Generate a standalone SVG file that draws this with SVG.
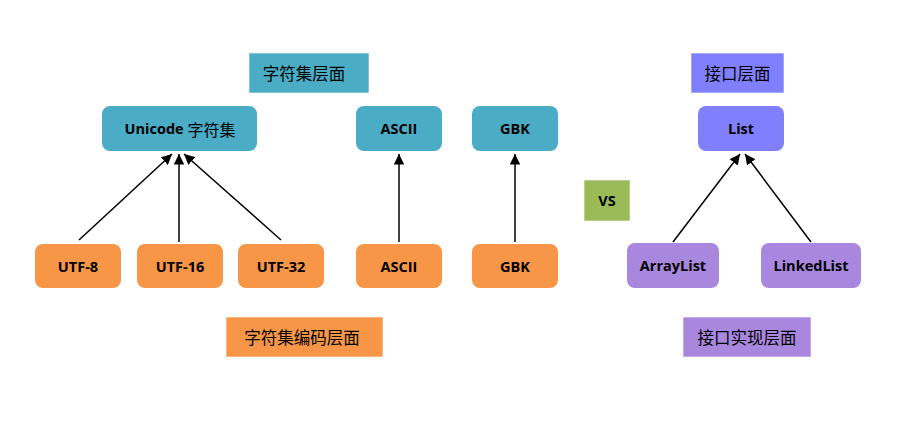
<svg xmlns="http://www.w3.org/2000/svg" width="920" height="423" viewBox="0 0 920 423">
<style>
.n{stroke:none}
.blue{fill:#4BACC6}
.orange{fill:#F79646}
.iface{fill:#8080FF}
.impl{fill:#A987DE}
.green{fill:#9BBB59}
.lbl{stroke:#ffffff;stroke-opacity:0.6;stroke-width:1}
.t{font-family:"Open Sans","Noto Sans CJK SC",sans-serif;font-weight:bold;font-size:14.5px;fill:#000;text-anchor:middle;dominant-baseline:central}
.cn{font-family:"Noto Sans CJK SC",sans-serif;font-weight:normal;font-size:16px}
.c{font-family:"Noto Sans CJK SC","Noto Sans",sans-serif;font-size:16.5px;fill:#000;text-anchor:middle;dominant-baseline:central}
.e{stroke:#000;stroke-width:1.5;fill:none;marker-end:url(#ah)}
</style>
<defs>
<marker id="ah" viewBox="0 0 10 10" refX="10" refY="5" markerWidth="7" markerHeight="7" orient="auto" markerUnits="strokeWidth">
<path d="M0,0 L10,5 L0,10 z" fill="#000"/>
</marker>
</defs>
<rect width="920" height="423" fill="#fff"/>
<g id="connectors">
<line class="e" x1="79" y1="240" x2="172" y2="154"/>
<line class="e" x1="179" y1="242" x2="179" y2="154"/>
<line class="e" x1="281" y1="240" x2="184" y2="154"/>
<line class="e" x1="399" y1="242" x2="399" y2="154"/>
<line class="e" x1="515" y1="242" x2="515" y2="154"/>
<line class="e" x1="673" y1="242" x2="740" y2="154"/>
<line class="e" x1="811" y1="242" x2="745" y2="154"/>
</g>
<g id="label-charset"><rect class="blue lbl" x="249" y="53" width="120" height="40"/><text class="c" x="304" y="73">字符集层面</text></g>
<g id="unicode"><rect class="blue" x="102" y="106" width="155" height="45" rx="8"/><text class="t" x="180" y="128.5">Unicode <tspan class="cn">字符集</tspan></text></g>
<g id="ascii-top"><rect class="blue" x="356" y="106" width="86" height="45" rx="8"/><text class="t" x="399" y="128.5">ASCII</text></g>
<g id="gbk-top"><rect class="blue" x="472" y="106" width="86" height="45" rx="8"/><text class="t" x="515" y="128.5">GBK</text></g>
<g id="utf8"><rect class="orange" x="35" y="244" width="86" height="44" rx="8"/><text class="t" x="78" y="266">UTF-8</text></g>
<g id="utf16"><rect class="orange" x="137" y="244" width="86" height="44" rx="8"/><text class="t" x="180" y="266">UTF-16</text></g>
<g id="utf32"><rect class="orange" x="238" y="244" width="86" height="44" rx="8"/><text class="t" x="281" y="266">UTF-32</text></g>
<g id="ascii-bottom"><rect class="orange" x="356" y="244" width="86" height="44" rx="8"/><text class="t" x="399" y="266">ASCII</text></g>
<g id="gbk-bottom"><rect class="orange" x="472" y="244" width="86" height="44" rx="8"/><text class="t" x="515" y="266">GBK</text></g>
<g id="label-encoding"><rect class="orange lbl" x="226" y="317" width="157" height="40"/><text class="c" x="302" y="337">字符集编码层面</text></g>
<g id="vs"><rect class="green lbl" x="584" y="180" width="46" height="41"/><text class="t" x="607" y="200.5">VS</text></g>
<g id="label-interface"><rect class="iface lbl" x="691" y="53" width="93" height="40"/><text class="c" x="737.5" y="73">接口层面</text></g>
<g id="list"><rect class="iface" x="698" y="106" width="86" height="45" rx="8"/><text class="t" x="741" y="128.5">List</text></g>
<g id="arraylist"><rect class="impl" x="627" y="243" width="92" height="45" rx="8"/><text class="t" x="673" y="265.5">ArrayList</text></g>
<g id="linkedlist"><rect class="impl" x="761" y="243" width="100" height="45" rx="8"/><text class="t" x="811" y="265.5">LinkedList</text></g>
<g id="label-impl"><rect class="impl lbl" x="683" y="317" width="128" height="40"/><text class="c" x="747" y="337">接口实现层面</text></g>
</svg>
